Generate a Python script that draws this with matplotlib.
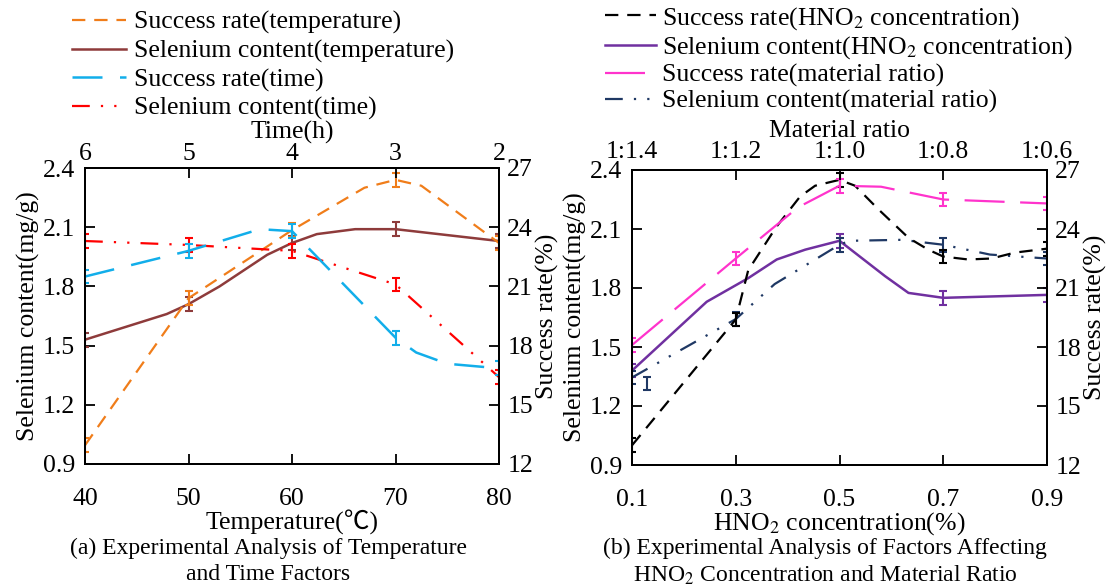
import matplotlib
matplotlib.use("Agg")
import matplotlib.pyplot as plt

plt.rcParams['font.family'] = ['Liberation Serif', 'Noto Sans CJK SC']
plt.rcParams['mathtext.fontset'] = 'stix'

# ---------------- data: panel (a) ----------------
temp = [40, 50, 60, 70, 80]
time_h = [6, 5, 4, 3, 2]
time_ticks = [6, 5, 4, 3, 2]

sr_temp = [12.95, 20.4, 23.85, 26.4, 23.2]          # success rate (temperature), %
sr_temp_cx = [40, 50, 60, 67, 70, 72.5, 80]
sr_temp_cy = [12.95, 20.4, 23.85, 26.0, 26.4, 26.1, 23.2]

se_temp = [1.53, 1.71, 2.02, 2.09, 2.03]            # selenium content (temperature)
se_temp_cx = [40, 47.9, 50, 53, 57.6, 60, 62.4, 66.1, 70, 80]
se_temp_cy = [1.53, 1.66, 1.71, 1.80, 1.96, 2.02, 2.065, 2.09, 2.09, 2.03]

sr_time = [21.5, 22.8, 23.8, 18.4, 16.85]           # success rate (time), %
sr_time_cx = [6, 5, 4.31, 4, 3, 2.8, 2.5, 2]
sr_time_cy = [21.5, 22.8, 23.9, 23.8, 18.4, 17.65, 17.08, 16.85]

se_time = [2.03, 2.01, 1.98, 1.81, 1.34]            # selenium content (time)

# ---------------- data: panel (b) ----------------
conc = [0.1, 0.3, 0.5, 0.7, 0.9]
ratio_labels = ['1:1.4', '1:1.2', '1:1.0', '1:0.8', '1:0.6']

sr_conc = [13.0, 19.4, 26.5, 22.6, 23.0]            # success rate (HNO2), %
sr_conc_cx = [0.1, 0.3, 0.324, 0.378, 0.424, 0.453, 0.5, 0.53, 0.575, 0.633, 0.671, 0.7, 0.748, 0.793, 0.838, 0.9]
sr_conc_cy = [13.0, 19.4, 21.9, 24.1, 25.65, 26.2, 26.5, 26.2, 25.0, 23.55, 22.95, 22.6, 22.45, 22.5, 22.8, 23.0]

se_conc_x = [0.1, 0.5, 0.7, 0.9]                     # selenium content (HNO2)
se_conc = [1.38, 2.04, 1.75, 1.765]
se_conc_cx = [0.1, 0.244, 0.324, 0.379, 0.434, 0.5, 0.588, 0.633, 0.7, 0.9]
se_conc_cy = [1.38, 1.73, 1.85, 1.945, 1.995, 2.04, 1.86, 1.775, 1.75, 1.765]

sr_ratio = [18.1, 22.5, 26.2, 25.5, 25.3]           # success rate (material ratio), %
sr_ratio_cx = [0.1, 0.3, 0.42, 0.5, 0.58, 0.7, 0.9]
sr_ratio_cy = [18.1, 22.5, 25.1, 26.2, 26.15, 25.5, 25.3]

se_ratio_x = [0.1, 0.128, 0.3, 0.5, 0.7, 0.9]        # selenium content (material ratio)
se_ratio = [1.345, 1.314, 1.642, 2.02, 2.02, 1.95]
se_ratio_cx = [0.1, 0.3, 0.375, 0.5, 0.52, 0.62, 0.7, 0.79, 0.9]
se_ratio_cy = [1.345, 1.642, 1.82, 2.02, 2.04, 2.045, 2.02, 1.97, 1.95]

se_err = 0.035
sr_err = 0.35

# ---------------- styles ----------------
C_OR = '#F07D1A'
C_BR = '#8E3B3B'
C_CY = '#12AEEA'
C_RD = '#FF0000'
C_BK = '#000000'
C_PU = '#7030A0'
C_PK = '#FF33CC'
C_NV = '#1F3864'

FS = 18.5
FS_CAP = 17
W, H = 1107, 587
fig = plt.figure(figsize=(W / 100, H / 100), dpi=100)

def style_axes(a):
    for s in a.spines.values():
        s.set_linewidth(1.3)
    a.tick_params(direction='in', length=7, width=1.3, labelsize=FS)
    a.tick_params(axis='y', pad=7)

def eb(a, x, y, err, color):
    a.errorbar(x, y, yerr=err, fmt='none', ecolor=color, elinewidth=1.5,
               capsize=3, capthick=1.5)

# ============ panel (a) ============
ax = fig.add_axes([85 / W, 1 - 464 / H, 414 / W, 296 / H])
ax_r = ax.twinx()
ax_t = ax.twiny()
ax_tr = ax_r.twiny()

ax.set_xlim(40, 80)
ax.set_ylim(0.9, 2.4)
ax.set_xticks(temp)
ax.set_yticks([0.9, 1.2, 1.5, 1.8, 2.1, 2.4])
ax.set_yticklabels(['0.9', '1.2', '1.5', '1.8', '2.1', '2.4'])
ax_r.set_ylim(12, 27)
ax_r.set_yticks([12, 15, 18, 21, 24, 27])
ax_t.set_xlim(6, 2)
ax_t.set_xticks(time_ticks)
ax_tr.set_xlim(6, 2)
ax_tr.set_xticks([])
for a in (ax, ax_r, ax_t, ax_tr):
    style_axes(a)
ax.tick_params(axis='x', pad=17)
ax_t.tick_params(axis='x', pad=2)
ax_r.tick_params(axis='y', pad=6)

l1, = ax_r.plot(sr_temp_cx, sr_temp_cy, color=C_OR, lw=1.6, dashes=(6, 4))
eb(ax_r, temp, sr_temp, sr_err, C_OR)
l2, = ax.plot(se_temp_cx, se_temp_cy, color=C_BR, lw=1.8)
eb(ax, temp, se_temp, se_err, C_BR)
l3, = ax_tr.plot(sr_time_cx, sr_time_cy, color=C_CY, lw=1.8, dashes=(12, 7))
eb(ax_tr, time_h, sr_time, sr_err, C_CY)
l4, = ax_t.plot(time_h, se_time, color=C_RD, lw=1.6, dashes=(8, 5, 1, 5, 1, 5))
eb(ax_t, time_h, se_time, se_err, C_RD)

ax.set_xlabel('Temperature(℃)', fontsize=FS, labelpad=0)
ax.set_ylabel('Selenium content(mg/g)', fontsize=FS, labelpad=2)
ax_r.set_ylabel('Success rate(%)', fontsize=FS, labelpad=2)
ax_t.set_xlabel('Time(h)', fontsize=FS, labelpad=3)

fig.legend([l1, l2, l3, l4],
           ['Success rate(temperature)', 'Selenium content(temperature)',
            'Success rate(time)', 'Selenium content(time)'],
           loc='upper left', bbox_to_anchor=(72 / W, 1 - 11 / H), frameon=False,
           fontsize=FS, handlelength=2.1, handletextpad=0.3, labelspacing=0.2,
           borderpad=0, borderaxespad=0)

fig.text(268 / W, 1 - 548 / H, '(a) Experimental Analysis of Temperature',
         ha='center', va='center', fontsize=FS_CAP)
fig.text(268 / W, 1 - 575 / H, 'and Time Factors', ha='center', va='center', fontsize=FS_CAP)

# ============ panel (b) ============
bx = fig.add_axes([632 / W, 1 - 465 / H, 415 / W, 295 / H])
bx_r = bx.twinx()
bx_t = bx.twiny()

bx.set_xlim(0.1, 0.9)
bx.set_ylim(0.9, 2.4)
bx.set_xticks(conc)
bx.set_xticklabels(['0.1', '0.3', '0.5', '0.7', '0.9'])
bx.set_yticks([0.9, 1.2, 1.5, 1.8, 2.1, 2.4])
bx.set_yticklabels(['0.9', '1.2', '1.5', '1.8', '2.1', '2.4'])
bx_r.set_ylim(12, 27)
bx_r.set_yticks([12, 15, 18, 21, 24, 27])
bx_t.set_xlim(0.1, 0.9)
bx_t.set_xticks(conc)
bx_t.set_xticklabels(ratio_labels)
for a in (bx, bx_r, bx_t):
    style_axes(a)
bx.tick_params(axis='x', pad=17)
bx_t.tick_params(axis='x', pad=5)
bx_r.tick_params(axis='y', pad=6)

m1, = bx_r.plot(sr_conc_cx, sr_conc_cy, color=C_BK, lw=1.6, dashes=(6, 4))
eb(bx_r, conc, sr_conc, sr_err, C_BK)
m2, = bx.plot(se_conc_cx, se_conc_cy, color=C_PU, lw=1.8)
eb(bx, se_conc_x, se_conc, se_err, C_PU)
m3, = bx_r.plot(sr_ratio_cx, sr_ratio_cy, color=C_PK, lw=1.6, dashes=(18, 7))
eb(bx_r, conc, sr_ratio, sr_err, C_PK)
m4, = bx.plot(se_ratio_cx, se_ratio_cy, color=C_NV, lw=1.6, dashes=(8, 5, 1, 5, 1, 5))
eb(bx, se_ratio_x, se_ratio, se_err, C_NV)

bx.set_xlabel('HNO$_2$ concentration(%)', fontsize=FS, labelpad=0)
bx.set_ylabel('Selenium content(mg/g)', fontsize=FS, labelpad=2)
bx_r.set_ylabel('Success rate(%)', fontsize=FS, labelpad=2)
bx_t.set_xlabel('Material ratio', fontsize=FS, labelpad=3)

fig.legend([m1, m2, m3, m4],
           ['Success rate(HNO$_2$ concentration)', 'Selenium content(HNO$_2$ concentration)',
            'Success rate(material ratio)', 'Selenium content(material ratio)'],
           loc='upper left', bbox_to_anchor=(605 / W, 1 - 5 / H), frameon=False,
           fontsize=FS, handlelength=2.0, handletextpad=0.2, labelspacing=0.1,
           borderpad=0, borderaxespad=0)

fig.text(825 / W, 1 - 548 / H, '(b) Experimental Analysis of Factors Affecting',
         ha='center', va='center', fontsize=FS_CAP)
fig.text(825 / W, 1 - 575 / H, 'HNO$_2$ Concentration and Material Ratio',
         ha='center', va='center', fontsize=FS_CAP)

fig.savefig('out.png', dpi=100)
